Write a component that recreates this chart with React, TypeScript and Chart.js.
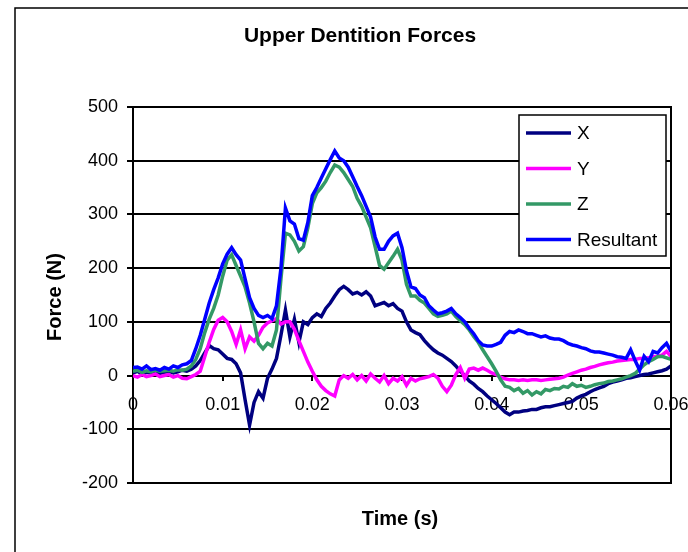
import React, { useEffect, useRef } from "react";
import { Chart, registerables } from "chart.js";

Chart.register(...registerables);

// Sampling step of the time axis (s)
const TIME_STEP = 0.0005;

// Series values (N), one per time sample
const forceX = [
  5, 8, 3, 6, 5, 8, 4, 6, 8, 5, 7, 10,
  8, 12, 18, 28, 42, 56, 50, 48, 40, 32, 30, 22, 5, -45, -92, -50, -30, -42,
  -5, 12, 32, 75, 122, 72, 105, 62, 100, 95, 108, 115, 110, 125, 135, 148, 160, 166, 160, 152,
  155, 150, 156, 148, 130, 133, 136, 130, 134, 125, 120, 100, 85, 80, 76, 65, 56, 48, 42, 38,
  32, 26, 18, 8, 0, -10, -16, -24, -30, -38, -45, -52, -60, -68, -73, -68, -68, -66, -65, -63,
  -63, -60, -58, -58, -56, -54, -52, -50, -48, -42, -38, -35, -30, -26, -23, -20, -15, -12, -10, -8,
  -5, -4, -2, 0, 2, 3, 5, 7, 9, 12, 18,
];

const forceY = [
  0, -3, 2, -2, 0, 3, -2, 0, 2, -3, 0, -5,
  -6, -2, 2, 8, 35, 62, 86, 103, 108, 100, 82, 58, 85, 50, 72, 64, 75, 90,
  98, 102, 106, 96, 100, 100, 86, 65, 45, 25, 8, -8, -20, -28, -34, -38, -8, 0, -5, 2,
  -8, 0, -10, 3, -5, -12, 0, -15, -5, -10, -2, -18, -5, -10, -6, -4, -2, 2, -5, -20,
  -30, -18, 2, 15, -5, 12, 14, 10, 14, 10, 5, 2, -3, -6, -8, -8, -9, -8, -9, -8,
  -8, -9, -8, -7, -6, -5, -3, 1, 4, 7, 10, 12, 15, 17, 20, 22, 24, 25, 27, 28,
  29, 30, 30, 32, 32, 33, 35, 36, 38, 45, 36,
];

const forceZ = [
  8, 10, 6, 9, 7, 10, 8, 9, 10, 8, 11, 10,
  12, 18, 30, 50, 80, 105, 125, 150, 185, 215, 225, 205, 185, 165, 135, 100, 60, 50,
  60, 55, 85, 180, 265, 262, 250, 232, 240, 275, 320, 340, 350, 362, 378, 392, 388, 378, 365, 352,
  330, 315, 295, 275, 240, 205, 198, 210, 222, 235, 215, 170, 148, 148, 140, 135, 125, 115, 110, 112,
  115, 120, 110, 102, 95, 85, 73, 62, 48, 35, 22, 8, -8, -20, -22, -28, -24, -33, -28, -36,
  -30, -34, -26, -28, -24, -25, -20, -22, -15, -20, -18, -22, -20, -17, -15, -14, -11, -10, -8, -6,
  -3, 0, 4, 12, 20, 26, 30, 35, 36, 33, 30,
];

const forceResultant = [
  15, 16, 12, 18, 11, 13, 10, 15, 12, 18, 15, 20,
  22, 28, 50, 75, 105, 135, 160, 182, 208, 226, 238, 225, 215, 180, 145, 125, 112, 108,
  112, 106, 130, 200, 312, 288, 282, 255, 252, 285, 335, 350, 368, 385, 402, 418, 405, 400, 388, 370,
  352, 335, 315, 295, 258, 235, 235, 250, 260, 265, 238, 195, 165, 162, 150, 145, 130, 122, 115, 117,
  120, 125, 115, 108, 100, 88, 78, 65, 57, 55, 55, 58, 62, 75, 82, 80, 85, 82, 78, 78,
  75, 72, 74, 70, 68, 68, 65, 60, 57, 55, 52, 50, 46, 44, 44, 42, 40, 38, 35, 34,
  32, 48, 28, 10, 36, 26, 45, 42, 52, 60, 45,
];

const seriesNames = ["X", "Y", "Z", "Resultant"];
const seriesColors = ["#000080", "#FF00FF", "#339966", "#0000FF"];
const seriesValues = [forceX, forceY, forceZ, forceResultant];

const FONT = "'Liberation Sans', Arial, Helvetica, sans-serif";

const toPoints = (vals: number[]) =>
  vals.map((v, i) => ({ x: Number((i * TIME_STEP).toFixed(4)), y: v }));

const framePlugin = {
  id: "frame",
  beforeDraw(chart: any) {
    const ctx = chart.ctx;
    ctx.save();
    ctx.fillStyle = "#ffffff";
    ctx.fillRect(0, 0, chart.width, chart.height);
    ctx.strokeStyle = "#000000";
    ctx.lineWidth = 1.5;
    ctx.strokeRect(15, 8, chart.width + 50, chart.height + 50);
    ctx.restore();
  },
  afterDatasetsDraw(chart: any) {
    const { ctx, chartArea } = chart;
    ctx.save();
    ctx.strokeStyle = "#000000";
    ctx.lineWidth = 2;
    ctx.beginPath();
    ctx.moveTo(chartArea.right, chartArea.top - 1);
    ctx.lineTo(chartArea.right, chartArea.bottom + 1);
    ctx.stroke();
    ctx.restore();
  },
  afterDraw(chart: any) {
    const ctx = chart.ctx;
    ctx.save();
    // axis titles
    ctx.fillStyle = "#000000";
    ctx.font = `bold 20px ${FONT}`;
    ctx.textAlign = "center";
    ctx.textBaseline = "middle";
    ctx.fillText("Time (s)", 400, 519);
    ctx.translate(55, 297);
    ctx.rotate(-Math.PI / 2);
    ctx.fillText("Force (N)", 0, 0);
    ctx.restore();

    // legend box
    ctx.save();
    const lx = 519, ly = 115, lw = 147, lh = 141;
    ctx.fillStyle = "#ffffff";
    ctx.fillRect(lx, ly, lw, lh);
    ctx.strokeStyle = "#000000";
    ctx.lineWidth = 1.5;
    ctx.strokeRect(lx, ly, lw, lh);
    ctx.font = `19px ${FONT}`;
    ctx.textAlign = "left";
    ctx.textBaseline = "middle";
    chart.data.datasets.forEach((ds: any, i: number) => {
      const y = 133 + i * 35.5;
      ctx.strokeStyle = ds.borderColor;
      ctx.lineWidth = 3.5;
      ctx.beginPath();
      ctx.moveTo(526, y);
      ctx.lineTo(571, y);
      ctx.stroke();
      ctx.fillStyle = "#000000";
      ctx.fillText(ds.label, 577, y + 1);
    });
    ctx.restore();
  },
};

export default function App() {
  const ref = useRef<HTMLCanvasElement>(null);

  useEffect(() => {
    document.body.style.margin = "0";
    Chart.defaults.font.family = FONT;
    const datasets = seriesNames.map((name, i) => ({
      label: name,
      data: toPoints(seriesValues[i]),
      borderColor: seriesColors[i],
      backgroundColor: seriesColors[i],
      borderWidth: 3.5,
      pointRadius: 0,
      tension: 0,
      fill: false,
      order: seriesNames.length - i,
    }));
    const chart = new Chart(ref.current as HTMLCanvasElement, {
      type: "line",
      data: { datasets },
      options: {
        responsive: false,
        animation: false,
        devicePixelRatio: 1,
        layout: { autoPadding: false, padding: { left: 49, right: 17, top: 23, bottom: 69 } },
        plugins: {
          legend: { display: false },
          tooltip: { enabled: false },
          title: {
            display: true,
            text: "Upper Dentition Forces",
            color: "#000000",
            font: { family: FONT, size: 21, weight: "bold", lineHeight: 1.2 },
            padding: { top: 1, bottom: 57.8 },
          },
        },
        scales: {
          x: {
            type: "linear",
            position: { y: 0 },
            min: 0,
            max: 0.06,
            ticks: {
              stepSize: 0.01,
              autoSkip: false,
              maxRotation: 0,
              color: "#000000",
              font: { family: FONT, size: 18 },
              padding: 14,
              callback: (v: any) => (Number(v) === 0 ? "0" : Number(v).toFixed(2)),
            },
            grid: {
              drawOnChartArea: false,
              drawTicks: true,
              tickLength: 5,
              color: "#000000",
              lineWidth: 2,
            },
            border: { display: false },
            afterFit: (scale: any) => {
              scale.paddingLeft = 0;
              scale.paddingRight = 0;
            },
          },
          y: {
            type: "linear",
            position: "left",
            min: -200,
            max: 500,
            ticks: {
              stepSize: 100,
              color: "#000000",
              font: { family: FONT, size: 18 },
              padding: 9,
            },
            grid: { color: "#000000", lineWidth: 2, tickLength: 6 },
            border: { color: "#000000", width: 2 },
            afterFit: (scale: any) => {
              scale.width = 84;
            },
          },
        },
      },
      plugins: [framePlugin],
    } as any);
    return () => chart.destroy();
  }, []);

  return (
    <canvas
      ref={ref}
      width={688}
      height={552}
      style={{ display: "block", width: 688, height: 552 }}
    />
  );
}
